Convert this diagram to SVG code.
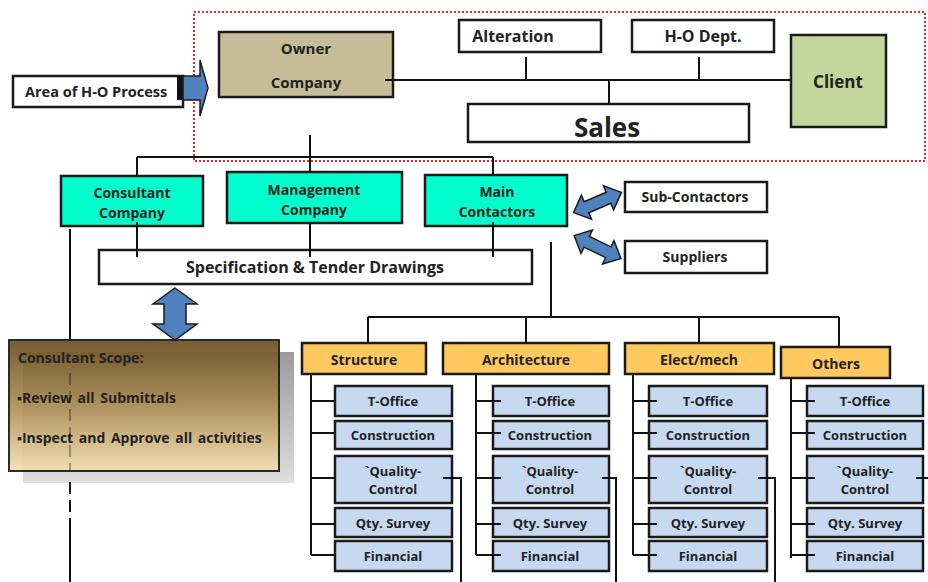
<svg xmlns="http://www.w3.org/2000/svg" width="928" height="582" viewBox="0 0 928 582">
<defs>
<linearGradient id="scopeGrad" x1="0" y1="0" x2="0" y2="1">
<stop offset="0" stop-color="#6a4e1f"/>
<stop offset="0.5" stop-color="#ad8e57"/>
<stop offset="1" stop-color="#f4e0ae"/>
</linearGradient>
<linearGradient id="shadowGrad" x1="0" y1="0" x2="0" y2="1">
<stop offset="0" stop-color="#8a8a8a"/>
<stop offset="1" stop-color="#d8d8d8"/>
</linearGradient>
<style>
.box{stroke:#1a1a1a;stroke-width:2.5}
.w{fill:#ffffff}
.cyan{fill:#00ffcc}
.org{fill:#ffc95e}
.sub{fill:#c6d9f1}
.t{font-family:"Open Sans","Liberation Sans",sans-serif;font-weight:bold;fill:#222222;text-anchor:middle}
.s13{font-size:13px}
.s14{font-size:14px}
.s16{font-size:16px}
.ln{stroke:#111111;stroke-width:2;fill:none}
.blue{fill:#4f81bd;stroke:#1a1a1a;stroke-width:1.5}
</style>
</defs>
<rect width="928" height="582" fill="#ffffff"/>

<rect x="194" y="12" width="731" height="149" fill="none" stroke="#e8262a" stroke-width="2" stroke-dasharray="2 2"/>

<g id="area-ho-process">
<rect class="box w" x="13" y="76" width="170" height="31"/>
<text class="t" style="font-size:14.5px;text-anchor:start" x="25" y="97">Area of H-O Process</text>
<rect x="177" y="76" width="7" height="24" fill="#111"/>
<polygon class="blue" points="183,76 200,76 200,60 208,88 200,116 200,100 183,100"/>
</g>

<g id="owner-company">
<rect class="box" x="219" y="32" width="174" height="65" fill="#c4bd97"/>
<text class="t" style="font-size:15px" x="306" y="54">Owner</text>
<text class="t" style="font-size:15px" x="306" y="88">Company</text>
</g>

<g id="alteration">
<rect class="box w" x="459" y="20" width="142" height="32"/>
<text class="t s16" x="513" y="42">Alteration</text>
</g>

<g id="ho-dept">
<rect class="box w" x="632" y="20" width="142" height="32"/>
<text class="t s16" x="703" y="42">H-O Dept.</text>
</g>

<g id="client">
<rect class="box" x="791" y="35" width="95" height="92" fill="#c3d69b"/>
<text class="t" style="font-size:17px" x="838" y="88">Client</text>
</g>

<g id="sales">
<rect class="box w" x="468" y="104" width="281" height="38"/>
<text class="t" style="font-size:26px" x="607" y="137">Sales</text>
</g>

<g id="consultant-company">
<rect class="box cyan" x="61" y="176" width="142" height="50"/>
<text class="t s14" x="132" y="198">Consultant</text>
<text class="t s14" x="132" y="218">Company</text>
</g>

<g id="management-company">
<rect class="box cyan" x="227" y="172" width="175" height="51"/>
<text class="t s14" x="314" y="195">Management</text>
<text class="t s14" x="314" y="215">Company</text>
</g>

<g id="main-contactors">
<rect class="box cyan" x="425" y="175" width="142" height="51"/>
<text class="t s14" x="497" y="197">Main</text>
<text class="t s14" x="497" y="217">Contactors</text>
</g>

<g id="spec-tender">
<rect class="box w" x="99" y="250" width="433" height="34"/>
<text class="t s16" x="315" y="273">Specification &amp; Tender Drawings</text>
</g>

<g id="sub-contactors">
<rect class="box w" x="625" y="182" width="142" height="30"/>
<text class="t s14" x="695" y="202">Sub-Contactors</text>
</g>

<g id="suppliers">
<rect class="box w" x="625" y="241" width="142" height="32"/>
<text class="t s14" x="695" y="262">Suppliers</text>
</g>

<g id="arrows-blue">
<polygon class="blue" points="175,288 197,304 186,304 186,324 197,324 175,340 153,324 164,324 164,304 153,304"/>
<polygon class="blue" transform="translate(597.5,202.5) rotate(-23)" points="-26,0 -12,-13 -12,-6 12,-6 12,-13 26,0 12,13 12,6 -12,6 -12,13"/>
<polygon class="blue" transform="translate(597.5,247) rotate(26)" points="-26,0 -12,-13 -12,-6 12,-6 12,-13 26,0 12,13 12,6 -12,6 -12,13"/>
</g>

<g id="consultant-scope">
<rect x="23" y="352" width="271" height="131" fill="url(#shadowGrad)" opacity="0.85"/>
<rect x="9" y="340" width="270" height="131" fill="url(#scopeGrad)" opacity="0.92" stroke="#1a1a1a" stroke-width="2"/>
<text class="t s14" x="18" y="363" style="text-anchor:start">Consultant Scope:</text>
<text class="t s14" x="17" y="403" style="text-anchor:start;word-spacing:2px">▪Review all Submittals</text>
<text class="t s14" x="17" y="443" style="text-anchor:start;word-spacing:2px">▪Inspect and Approve all activities</text>
</g>

<g id="structure">
<rect class="box org" x="302" y="343" width="124" height="31"/>
<text class="t s14" x="364" y="365">Structure</text>
</g>
<g id="architecture">
<rect class="box org" x="443" y="343" width="166" height="31"/>
<text class="t s14" x="526" y="365">Architecture</text>
</g>
<g id="elect-mech">
<rect class="box org" x="625" y="343" width="149" height="31"/>
<text class="t s14" x="699" y="365">Elect/mech</text>
</g>
<g id="others">
<rect class="box org" x="781" y="347" width="109" height="31"/>
<text class="t s14" x="836" y="369">Others</text>
</g>

<g id="structure-subs">
<rect class="box sub" x="335" y="386" width="117" height="30"/>
<text class="t s13" x="393" y="406">T-Office</text>
<rect class="box sub" x="335" y="421" width="117" height="28"/>
<text class="t s13" x="393" y="440">Construction</text>
<rect class="box sub" x="335" y="456" width="117" height="47"/>
<text class="t s13" x="393" y="476">`Quality-</text>
<text class="t s13" x="393" y="494">Control</text>
<rect class="box sub" x="335" y="508" width="117" height="29"/>
<text class="t s13" x="393" y="528">Qty. Survey</text>
<rect class="box sub" x="335" y="541" width="117" height="30"/>
<text class="t s13" x="393" y="561">Financial</text>
</g>

<g id="architecture-subs">
<rect class="box sub" x="493" y="386" width="116" height="30"/>
<text class="t s13" x="550" y="406">T-Office</text>
<rect class="box sub" x="493" y="421" width="116" height="28"/>
<text class="t s13" x="550" y="440">Construction</text>
<rect class="box sub" x="493" y="456" width="116" height="47"/>
<text class="t s13" x="550" y="476">`Quality-</text>
<text class="t s13" x="550" y="494">Control</text>
<rect class="box sub" x="493" y="508" width="116" height="29"/>
<text class="t s13" x="550" y="528">Qty. Survey</text>
<rect class="box sub" x="493" y="541" width="116" height="30"/>
<text class="t s13" x="550" y="561">Financial</text>
</g>

<g id="elect-mech-subs">
<rect class="box sub" x="649" y="386" width="118" height="30"/>
<text class="t s13" x="708" y="406">T-Office</text>
<rect class="box sub" x="649" y="421" width="118" height="28"/>
<text class="t s13" x="708" y="440">Construction</text>
<rect class="box sub" x="649" y="456" width="118" height="47"/>
<text class="t s13" x="708" y="476">`Quality-</text>
<text class="t s13" x="708" y="494">Control</text>
<rect class="box sub" x="649" y="508" width="118" height="29"/>
<text class="t s13" x="708" y="528">Qty. Survey</text>
<rect class="box sub" x="649" y="541" width="118" height="30"/>
<text class="t s13" x="708" y="561">Financial</text>
</g>

<g id="others-subs">
<rect class="box sub" x="807" y="386" width="116" height="30"/>
<text class="t s13" x="865" y="406">T-Office</text>
<rect class="box sub" x="807" y="421" width="116" height="28"/>
<text class="t s13" x="865" y="440">Construction</text>
<rect class="box sub" x="807" y="456" width="116" height="47"/>
<text class="t s13" x="865" y="476">`Quality-</text>
<text class="t s13" x="865" y="494">Control</text>
<rect class="box sub" x="807" y="508" width="116" height="29"/>
<text class="t s13" x="865" y="528">Qty. Survey</text>
<rect class="box sub" x="807" y="541" width="116" height="30"/>
<text class="t s13" x="865" y="561">Financial</text>
</g>

<g id="connectors" class="ln">
<path d="M385,80 H791 M526,57 V80 M699,57 V80 M609,80 V104"/>
<path d="M310,135 V172 M137,157 H493 M137,157 V176 M493,157 V175"/>
<path d="M137,222 V257 M310,223 V257 M493,222 V257"/>
<path d="M70,229 V341 M70,530 V582"/>
<path d="M70,373 V470" stroke-dasharray="12 6" opacity="0.35"/>
<path d="M70,482 V530" stroke-dasharray="12 6"/>
<path d="M551,242 V317 M368,317 H839 M368,317 V343 M526,317 V343 M699,317 V343 M839,317 V347"/>
<path d="M311,374 V555 M311,401 H335 M311,433 H335 M311,478 H335 M311,524 H335 M311,555 H335"/>
<path d="M476,374 V555 M476,401 H501 M476,433 H501 M476,478 H501 M476,524 H501 M476,555 H501"/>
<path d="M633,374 V555 M633,401 H657 M633,433 H657 M633,478 H657 M633,524 H657 M633,555 H657"/>
<path d="M791,378 V558 M791,401 H815 M791,433 H815 M791,478 H815 M791,524 H815 M791,555 H815"/>
<path d="M443,478 H461 V582 M602,478 H616 V582 M758,478 H775 V582 M916,478 H928"/>
</g>
</svg>
